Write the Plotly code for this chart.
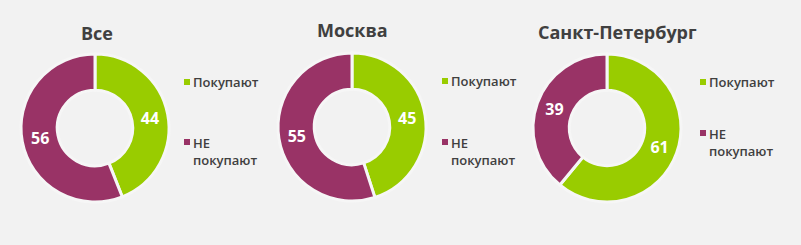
import plotly.graph_objects as go

# ---- data ----
titles = ["Все", "Москва", "Санкт-Петербург"]
categories = ["Покупают", "НЕ покупают"]
values_all = [44, 56]
values_msk = [45, 55]
values_spb = [61, 39]
colors = ["#99CC00", "#993366"]

series = [values_all, values_msk, values_spb]

W, H = 801, 245
BG = "#F2F2F2"
TXT = "#404040"

# layout geometry (pixels)
centers = [(95, 128), (352, 127), (607, 128)]
R = 74
title_y = [33, 30, 32]
title_x = [97, 352, 617]
legend_x = [184, 442, 700]
legend_y1 = [82, 81, 82]
legend_y2 = [151, 151, 142]

fig = go.Figure()

def px_x(x):
    return x / W

def px_y(y):
    return 1 - y / H

for i, vals in enumerate(series):
    cx, cy = centers[i]
    fig.add_trace(go.Pie(
        labels=categories,
        values=vals,
        hole=0.51,
        sort=False,
        direction="clockwise",
        rotation=0,
        marker=dict(colors=colors, line=dict(color="#F6F6F6", width=3)),
        textinfo="value",
        textposition="inside",
        insidetextorientation="horizontal",
        textfont=dict(family="Open Sans, Arial", size=16, color="white", weight="bold"),
        domain=dict(x=[px_x(cx - R), px_x(cx + R)], y=[px_y(cy + R), px_y(cy - R)]),
        showlegend=False,
        hoverinfo="label+value",
    ))
    # title
    fig.add_annotation(
        x=px_x(title_x[i]), y=px_y(title_y[i]), xref="paper", yref="paper",
        text="<b>%s</b>" % titles[i], showarrow=False,
        font=dict(family="Open Sans, Arial", size=18, color=TXT),
        xanchor="center", yanchor="middle",
    )
    # legend
    ys = [legend_y1[i], legend_y2[i]]
    for k, cat in enumerate(categories):
        lx = legend_x[i]
        ly = ys[k]
        sq_y = ly if k == 0 else ly - 9
        fig.add_shape(
            type="rect", xref="paper", yref="paper",
            x0=px_x(lx), x1=px_x(lx + 6), y0=px_y(sq_y + 3), y1=px_y(sq_y - 3),
            fillcolor=colors[k], line=dict(width=0),
        )
        label = cat.replace(" ", "<br>")
        fig.add_annotation(
            x=px_x(lx + 7), y=px_y(ly), xref="paper", yref="paper",
            text=label, showarrow=False, align="left",
            font=dict(family="Open Sans, Arial", size=13, color=TXT, weight=600),
            xanchor="left", yanchor="middle",
        )

fig.update_layout(
    width=W, height=H,
    margin=dict(l=0, r=0, t=0, b=0),
    paper_bgcolor=BG, plot_bgcolor=BG,
    showlegend=False,
)

fig.write_html("out.html")
